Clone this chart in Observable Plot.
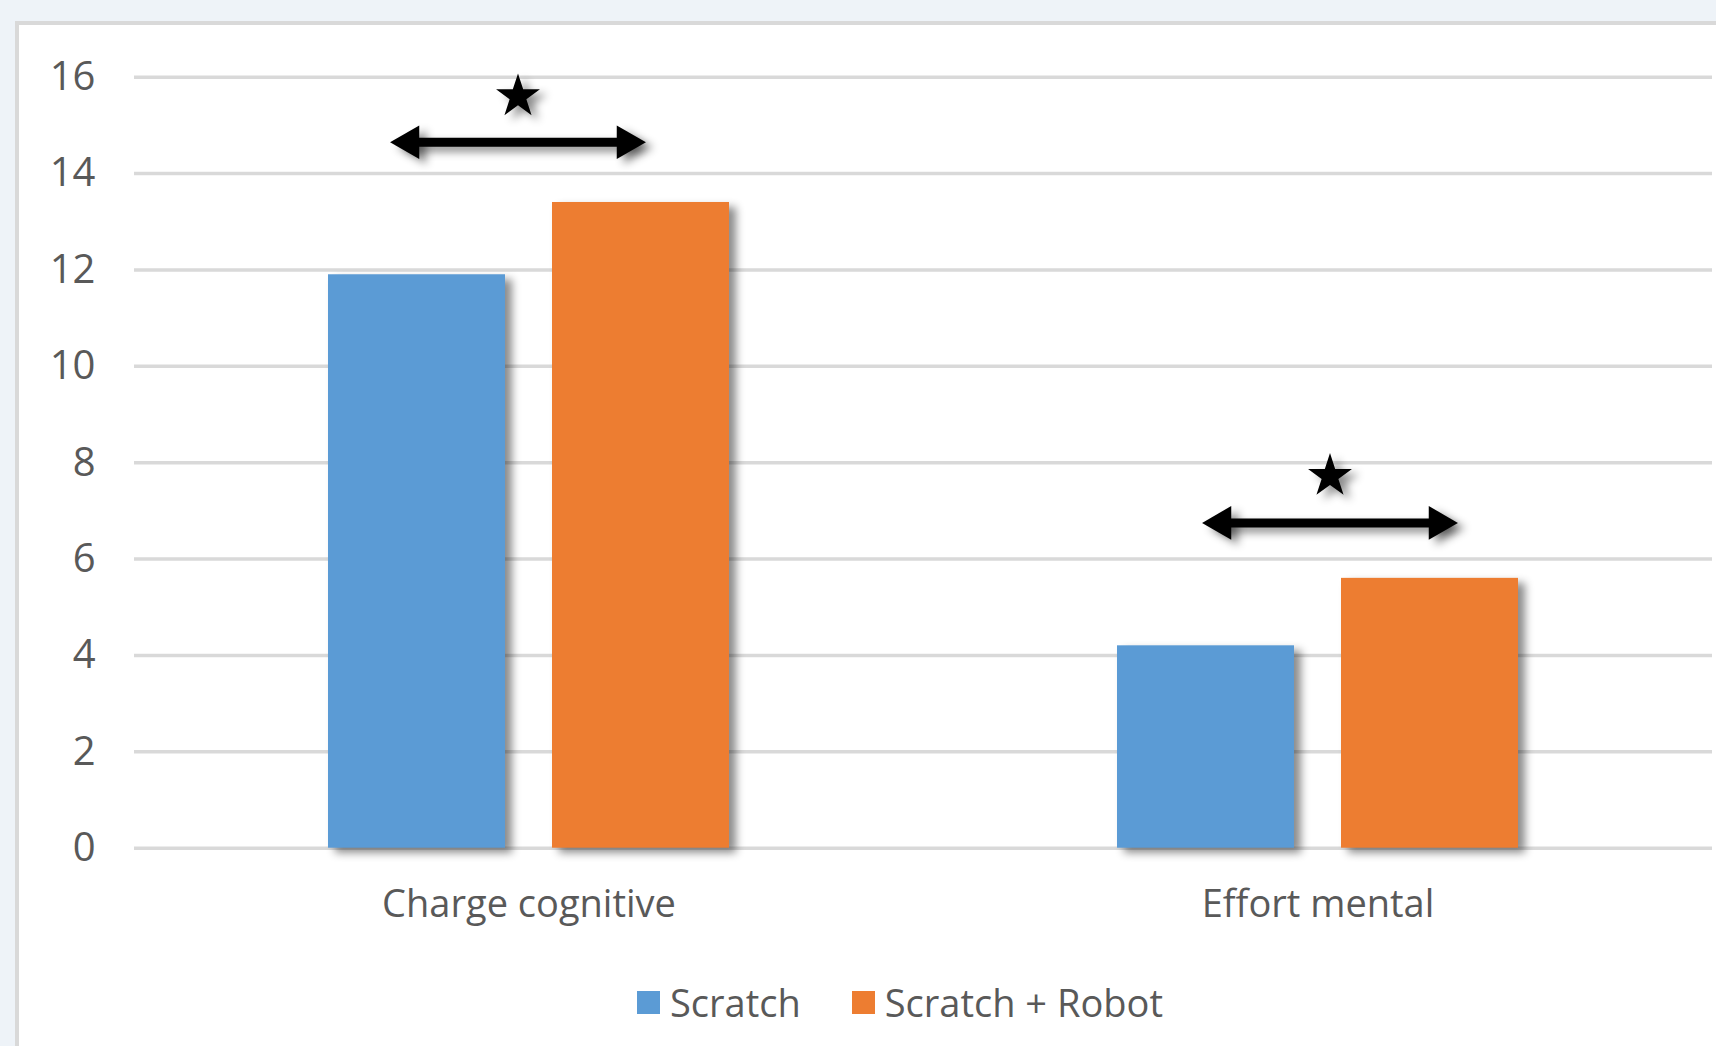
<!DOCTYPE html>
<html>
<head>
<meta charset="utf-8">
<script src="https://cdn.jsdelivr.net/npm/d3@7"></script>
<script src="https://cdn.jsdelivr.net/npm/@observablehq/plot@0.6"></script>
<style>
  html, body { margin: 0; padding: 0; background: #eef3f8; width: 1716px; height: 1046px; overflow: hidden; }
  #box { position: absolute; left: 15px; top: 21px; width: 1720px; height: 1040px; background: #fff;
         border-left: 4px solid #d9d9d9; border-top: 4px solid #d9d9d9; }
  #chart { position: absolute; left: 0; top: 0; }
  #legend { position: absolute; left: 618px; top: 957px; display: flex; align-items: center;
            font-family: "Open Sans", sans-serif; font-size: 38px; color: #595959; line-height: 40px; }
  #legend .item { display: flex; align-items: center; margin-right: 51px; }
  #legend .sw { width: 23px; height: 23px; margin-right: 10px; }
  svg g[aria-label="bar"], svg g[aria-label="line"], svg g[aria-label="dot"] {
    filter: drop-shadow(7px 5px 4px rgba(0,0,0,0.45));
  }
  svg g[aria-label="y-axis tick label"] { font-size: 40px; }
</style>
</head>
<body>
<div id="box">
  <div id="chart"></div>
  <div id="legend"></div>
</div>
<script>
// ---- data ----
const categories = ["Charge cognitive", "Effort mental"];
const series = ["Scratch", "Scratch + Robot"];
const scratchValues = [11.9, 4.2];
const robotValues = [13.4, 5.6];
const colors = ["#5b9bd5", "#ed7d31"];
const yTicks = [0, 2, 4, 6, 8, 10, 12, 14, 16];
// significance annotations (arrow level and star level, in chart units)
const arrowLevels = [14.65, 6.75];
const starLevels = [15.6, 7.72];

// ---- build table ----
const rows = [];
categories.forEach((c, i) => {
  rows.push({category: c, series: series[0], value: scratchValues[i]});
  rows.push({category: c, series: series[1], value: robotValues[i]});
});
const sig = categories.map((c, i) => ({category: c, arrow: arrowLevels[i], star: starLevels[i]}));
const groupShift = [-11, 12];

const annotationMarks = sig.flatMap((s, i) => {
  const ends = series.map((ser) => ({category: s.category, series: ser, arrow: s.arrow}));
  return [
    Plot.line(ends, {fx: "category", x: "series", y: "arrow", stroke: "black", strokeWidth: 9, dx: groupShift[i]}),
    Plot.dot([ends[0]], {fx: "category", x: "series", y: "arrow", symbol: "triangle", rotate: -90, r: 12.5, fill: "black", stroke: "none", dx: groupShift[i] + 3.5}),
    Plot.dot([ends[1]], {fx: "category", x: "series", y: "arrow", symbol: "triangle", rotate: 90, r: 12.5, fill: "black", stroke: "none", dx: groupShift[i] - 3.5}),
    Plot.dot([s], {fx: "category", y: "star", symbol: "star", r: 13.8, fill: "black", stroke: "none", dx: groupShift[i]})
  ];
});

const chart = Plot.plot({
  width: 1697,
  height: 920,
  marginLeft: 115,
  marginRight: 4,
  marginTop: 51.7,
  marginBottom: 97.3,
  style: {fontFamily: "'Open Sans', sans-serif", fontSize: "38px", color: "#595959", background: "transparent"},
  fx: {domain: categories, padding: 0, label: null, axis: "bottom", tickSize: 0, tickPadding: 42},
  x: {domain: series, axis: null, paddingInner: 0.21, paddingOuter: 0.866, align: 0.5},
  y: {domain: [0, 16], ticks: yTicks, tickSize: 0, tickPadding: 39, label: null},
  color: {domain: series, range: colors},
  marks: [
    Plot.gridY(yTicks, {stroke: "#d9d9d9", strokeOpacity: 1, strokeWidth: 3.5}),
    Plot.barY(rows, {fx: "category", x: "series", y: "value", fill: "series"}),
    ...annotationMarks
  ]
});
document.getElementById("chart").appendChild(chart);

// legend
const legend = document.getElementById("legend");
series.forEach((s, i) => {
  const item = document.createElement("div");
  item.className = "item";
  const sw = document.createElement("div");
  sw.className = "sw";
  sw.style.background = colors[i];
  const label = document.createElement("span");
  label.textContent = s;
  item.appendChild(sw);
  item.appendChild(label);
  legend.appendChild(item);
});
</script>
</body>
</html>
